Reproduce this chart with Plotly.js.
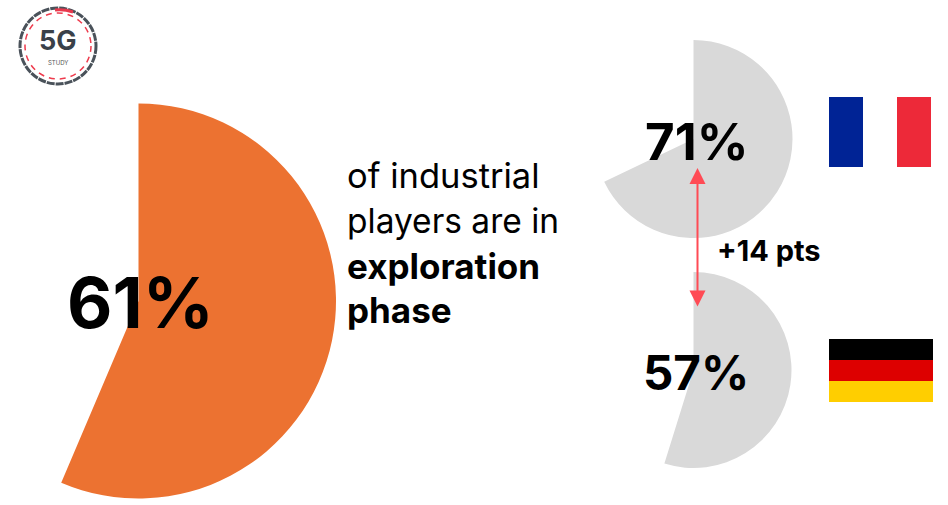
<!DOCTYPE html>
<html><head><meta charset="utf-8">
<script src="https://cdn.plot.ly/plotly-3.0.1.min.js"></script>
<style>html,body{margin:0;padding:0;background:#fff;overflow:hidden}#w{width:948px;height:505px;overflow:hidden;position:relative}#c{position:absolute;left:-120px;top:0;width:1068px;height:505px}</style>
</head><body><div id="w"><div id="c"></div></div>
<script>
var shareLabels = ["61%", "71%", "57%"];
var drawnSliceValues = [56.4, 67.9, 54.8];
var sliceColors = ["#EC7231", "#D9D9D9", "#D9D9D9"];
var descriptionLines = ["of industrial", "players are in", "<b>exploration</b>", "<b>phase</b>"];
var deltaLabel = "+14 pts";
var logoTitle = "5G";
var logoSubtitle = "STUDY";

var OFF = 120, W = 948 + OFF, H = 505, FONT = "Inter, Roboto, 'Liberation Sans', sans-serif";
function px(x){return (x+OFF)/W;}
function py(y){return 1-y/H;}
function pie(i,cx,cy,r){
  return {type:"pie",values:[drawnSliceValues[i],100-drawnSliceValues[i]],sort:false,direction:"clockwise",rotation:0,
    marker:{colors:[sliceColors[i],"rgba(0,0,0,0)"],line:{width:0}},textinfo:"none",hoverinfo:"skip",showlegend:false,
    domain:{x:[px(cx-r),px(cx+r)],y:[py(cy+r),py(cy-r)]}};
}
var traces=[pie(0,138.5,301,197.5),pie(1,693.5,139,99),pie(2,693.5,370,98)];
function rect(x0,y0,x1,y1,c){return {type:"rect",xref:"paper",yref:"paper",x0:px(x0),x1:px(x1),y0:py(y0),y1:py(y1),fillcolor:c,line:{width:0},layer:"above"};}
function ring(cx,cy,r,c,w,d){return {type:"circle",xref:"paper",yref:"paper",x0:px(cx-r),x1:px(cx+r),y0:py(cy+r),y1:py(cy-r),line:{color:c,width:w,dash:d},fillcolor:"rgba(0,0,0,0)",layer:"above"};}
var shapes=[
  rect(829,97,863,167,"#002395"),rect(897,97,931,167,"#ED2939"),
  rect(829,339,933,360,"#000000"),rect(829,360,933,381,"#DD0000"),rect(829,381,933,402,"#FFCE00"),
  ring(58,46,38,"#4a525a",3,"8px,1px"),ring(58,46,33,"#ee3b4d",1.5,"6px,5px")
];
shapes.push({type:"path",xref:"paper",yref:"paper",path:"M"+px(55)+","+py(10)+" Q"+px(64)+","+py(9)+" "+px(73)+","+py(12),line:{color:"#e8394d",width:3},layer:"above"});
function txt(s,x,y,size,anchor,color){return {text:s,xref:"paper",yref:"paper",x:px(x),y:py(y),xanchor:anchor||"left",yanchor:"middle",showarrow:false,font:{family:FONT,size:size,color:color||"#000"}};}
var ann=[
  txt("<b>"+shareLabels[0]+"</b>",140,302,70,"center"),
  txt("<b>"+shareLabels[1]+"</b>",696,141,51,"center"),
  txt("<b>"+shareLabels[2]+"</b>",696,372,47.5,"center"),
  txt(descriptionLines[0],345,175,34.5),
  txt(descriptionLines[1],345,221,33.5),
  txt(descriptionLines[2],345,266,35),
  txt(descriptionLines[3],345,310,35),
  txt("<b>"+deltaLabel+"</b>",715,250,29),
  txt("<b>"+logoTitle+"</b>",58,41,27,"center","#3a4149"),
  txt(logoSubtitle,58,62,6,"center","#555"),
  {xref:"paper",yref:"paper",axref:"pixel",ayref:"pixel",x:px(697.5),y:py(168),ax:0,ay:140,text:"",showarrow:true,arrowhead:2,arrowside:"end+start",arrowsize:1.6,arrowwidth:2,arrowcolor:"#FF4B55"}
];
Plotly.newPlot("c",traces,{width:W,height:H,margin:{l:0,r:0,t:0,b:0},paper_bgcolor:"#fff",showlegend:false,shapes:shapes,annotations:ann},{displayModeBar:false,staticPlot:true});
</script></body></html>
